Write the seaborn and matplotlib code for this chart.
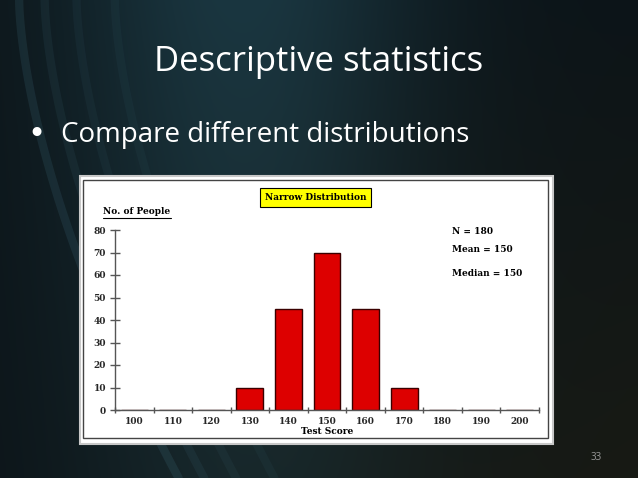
import numpy as np
import pandas as pd
import matplotlib
matplotlib.use('Agg')
import matplotlib.pyplot as plt
import seaborn as sns
from matplotlib.patches import Rectangle

# Dữ liệu biểu đồ
scores = ['100', '110', '120', '130', '140', '150', '160', '170', '180', '190', '200']
people = [0, 0, 0, 10, 45, 70, 45, 10, 0, 0, 0]
y_ticks = [0, 10, 20, 30, 40, 50, 60, 70, 80]
stats_lines = ['N = 180', 'Mean = 150', 'Median = 150']

slide_title = 'Descriptive statistics'
bullet_text = 'Compare different distributions'
chart_title = 'Narrow Distribution'

W, H = 638, 478


def fx(x):
    return x / W


def fy(y):
    return 1 - y / H


sns.set_theme(style='white')
fig = plt.figure(figsize=(W / 100, H / 100), dpi=100)

# Nền slide tối
bg = fig.add_axes([0, 0, 1, 1], zorder=-5)
gx = np.linspace(0, 1, 320)
gy = np.linspace(0, 1, 240)
X, Y = np.meshgrid(gx, gy)
glow = np.exp(-((X - 0.38) / 0.28) ** 2) * (1 - 0.5 * Y)
r = 12 + 14 * glow + 12 * Y * X
g = 20 + 34 * glow + 6 * Y * X
b = 24 + 40 * glow - 4 * Y * X
img = np.dstack([r, g, b]) / 255.0
bg.imshow(np.clip(img, 0, 1), aspect='auto', extent=[0, 1, 0, 1], origin='upper')
t = np.linspace(0, 1, 100)
for k, a in [(0.0, 0.12), (0.04, 0.08), (0.09, 0.06), (0.15, 0.05)]:
    bg.plot(0.03 + k + 0.25 * t ** 1.6, 1 - t, color='#5fa0b8', alpha=a, lw=6)

# Khung biểu đồ trắng
bg.add_patch(Rectangle((fx(80), fy(444)), fx(553) - fx(80), fy(176) - fy(444),
                       facecolor='white', edgecolor='#c8c8c8', lw=1.5, zorder=3))
bg.add_patch(Rectangle((fx(83), fy(438)), fx(548) - fx(83), fy(180) - fy(438),
                       facecolor='white', edgecolor='#444444', lw=1.0, zorder=4))
bg.set_xlim(0, 1)
bg.set_ylim(0, 1)
bg.axis('off')

fig.text(0.5, fy(62), slide_title, ha='center', va='center',
         color='white', fontsize=25, family='Open Sans')
fig.text(fx(36), fy(134), '\u2022', ha='center', va='center',
         color='white', fontsize=22, family='DejaVu Sans')
fig.text(fx(61), fy(135), bullet_text, ha='left', va='center',
         color='white', fontsize=20, family='Open Sans')
fig.text(fx(596), fy(457), '33', ha='center', va='center',
         color='#9a9a9a', fontsize=7, family='Open Sans')

df = pd.DataFrame({'score': scores, 'people': people})

ax = fig.add_axes([fx(115), fy(410), fx(539) - fx(115), fy(230) - fy(410)], zorder=2)
ax.set_facecolor('none')
sns.barplot(data=df, x='score', y='people', ax=ax, color='#dd0000',
            width=0.7, edgecolor='#3a0000', linewidth=1.0, saturation=1)
ax.set_xlim(-0.5, len(scores) - 0.5)
ax.set_ylim(0, 80)

serif = {'family': 'DejaVu Serif', 'weight': 'bold', 'size': 6.5}
ax.set_xticks(np.arange(-0.5, len(scores), 1))
ax.set_xticklabels([])
ax.set_xticks(range(len(scores)), minor=True)
ax.set_xticklabels(scores, minor=True, fontdict=serif)
ax.set_yticks(y_ticks)
ax.set_yticklabels(y_ticks, fontdict=serif)
ax.tick_params(axis='x', which='major', direction='inout', length=5,
               width=1, color='#555555', bottom=True)
ax.tick_params(axis='x', which='minor', length=0, pad=5, bottom=True)
ax.tick_params(axis='y', direction='inout', length=7, width=1,
               color='#555555', left=True, pad=3)
for s in ['top', 'right']:
    ax.spines[s].set_visible(False)
for s in ['left', 'bottom']:
    ax.spines[s].set_color('#555555')
    ax.spines[s].set_linewidth(1.0)
ax.set_xlabel('')
ax.set_ylabel('')
ax.grid(False)

fig.text(fx(327), fy(431), 'Test Score', ha='center', va='center',
         family='DejaVu Serif', weight='bold', fontsize=6.5, color='black')
fig.text(fx(103), fy(212), 'No. of People', ha='left', va='center',
         family='DejaVu Serif', weight='bold', fontsize=6.5, color='black')
fig.add_artist(plt.Line2D([fx(103), fx(171)], [fy(218), fy(218)],
                          transform=fig.transFigure, color='black', lw=0.8))

fig.text(fx(315.5), fy(197.5), chart_title, ha='center', va='center',
         family='DejaVu Serif', weight='bold', fontsize=6.5, color='black',
         bbox=dict(boxstyle='square,pad=0.55', facecolor='#ffff00',
                   edgecolor='black', lw=0.8))

for i, line in enumerate(stats_lines):
    fig.text(fx(452), fy([232, 250, 273][i]), line, ha='left', va='center',
             family='DejaVu Serif', weight='bold', fontsize=6.5, color='black')

fig.savefig('out.png', dpi=100)
